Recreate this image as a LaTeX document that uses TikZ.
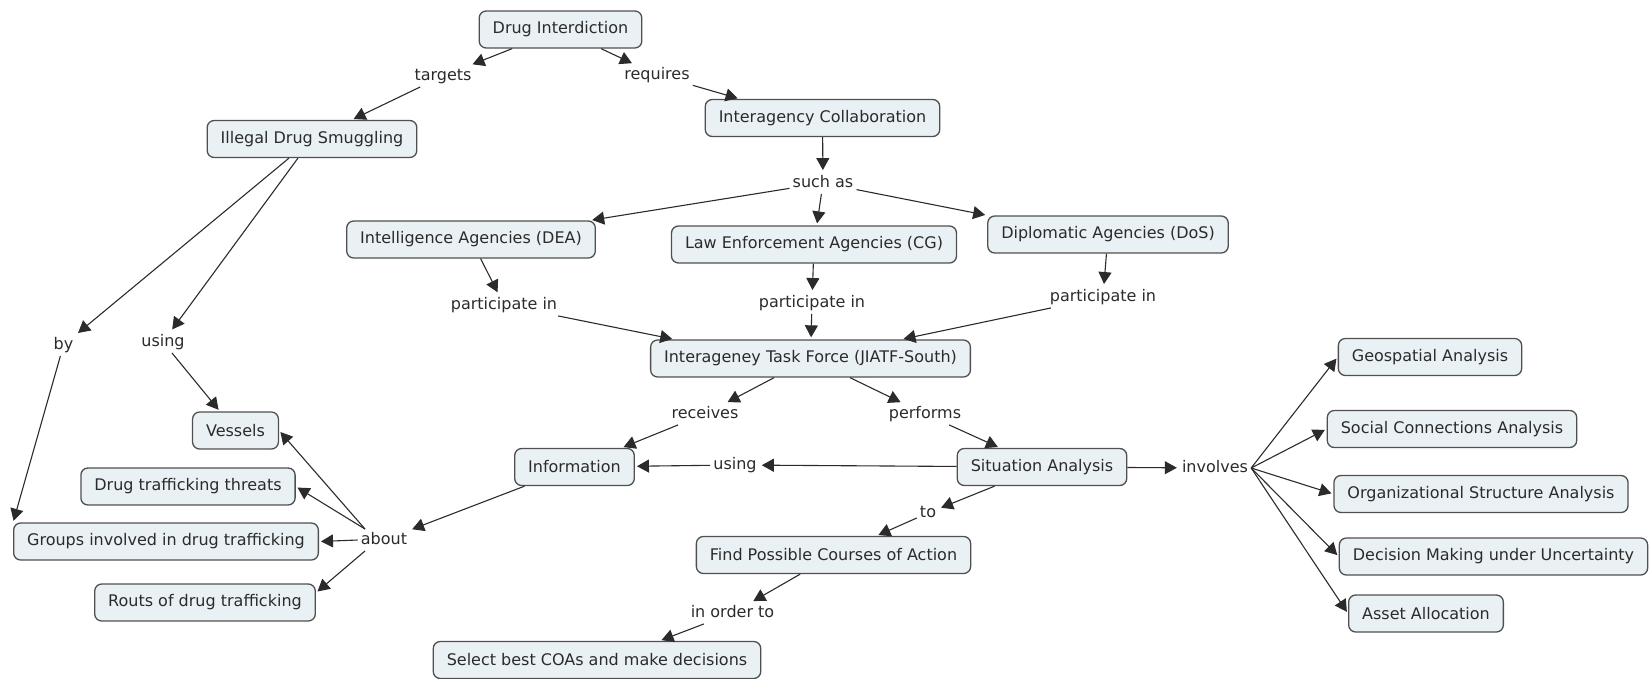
\documentclass[tikz,border=0pt]{standalone}
\usepackage{fontspec}
\setmainfont{DejaVu Sans}
\usepackage{xcolor}
\definecolor{boxfill}{HTML}{EAF1F5}
\definecolor{boxline}{HTML}{505050}
\definecolor{ink}{HTML}{2B2B2B}
\usepackage{tikz}
\usetikzlibrary{arrows.meta}

\begin{document}
\begin{tikzpicture}[x=1pt,y=-1pt,
    concept/.style={rectangle,rounded corners=7pt,fill=boxfill,draw=boxline,
      line width=1.3pt,inner xsep=13.5pt,minimum height=37pt,text=ink,
      font=\fontsize{16}{19}\selectfont},
    phrase/.style={inner sep=3pt,text height=12pt,text depth=3.5pt,text=ink,
      font=\fontsize{16}{19}\selectfont},
    link/.style={draw=ink,line width=1.1pt,
      -{Triangle[length=12pt,width=13pt]},shorten >=2pt}]
    \useasboundingbox (0,0) rectangle (1650,678);
    % concepts
    \node[concept] (di) at (560.5,29.5) {Drug Interdiction};
    \node[concept] (ids) at (312,139) {Illegal Drug Smuggling};
    \node[concept] (ic) at (822.5,118) {Interagency Collaboration};
    \node[concept] (intel) at (471,239.5) {Intelligence Agencies (DEA)};
    \node[concept] (law) at (814,244.5) {Law Enforcement Agencies (CG)};
    \node[concept] (dos) at (1108,234.5) {Diplomatic Agencies (DoS)};
    \node[concept] (tf) at (810.5,358.5) {Interageney Task Force (JIATF-South)};
    \node[concept] (info) at (574.5,467) {Information};
    \node[concept] (sit) at (1042,467) {Situation Analysis};
    \node[concept] (find) at (833.5,555) {Find Possible Courses of Action};
    \node[concept] (sel) at (597,660) {Select best COAs and make decisions};
    \node[concept] (vessels) at (235.5,430.5) {Vessels};
    \node[concept] (threats) at (188,486.5) {Drug trafficking threats};
    \node[concept] (groups) at (166,541.5) {Groups involved in drug trafficking};
    \node[concept] (routs) at (205,602.5) {Routs of drug trafficking};
    \node[concept] (geo) at (1430,357) {Geospatial Analysis};
    \node[concept] (social) at (1452,429) {Social Connections Analysis};
    \node[concept] (org) at (1481,494) {Organizational Structure Analysis};
    \node[concept] (dec) at (1493.5,556.5) {Decision Making under Uncertainty};
    \node[concept] (asset) at (1426,613.5) {Asset Allocation};
    % linking phrases
    \node[phrase] (targets) at (443,76) {targets};
    \node[phrase] (requires) at (657,75) {requires};
    \node[phrase] (suchas) at (823,183) {such as};
    \node[phrase] (partl) at (504,305) {participate in};
    \node[phrase] (partm) at (812,303) {participate in};
    \node[phrase] (partr) at (1103,297) {participate in};
    \node[phrase] (by) at (63.5,345) {by};
    \node[phrase] (usingv) at (163,342) {using};
    \node[phrase] (receives) at (705,414) {receives};
    \node[phrase] (performs) at (925,414) {performs};
    \node[phrase] (usingi) at (735,465) {using};
    \node[phrase] (about) at (384,540) {about};
    \node[phrase] (involves) at (1215,468) {involves};
    \node[phrase] (to) at (928,513) {to};
    \node[phrase] (inorder) at (732.5,613) {in order to};
    % links
    \draw[link] (di) -- (targets);
    \draw[link] (targets) -- (ids);
    \draw[link] (di) -- (requires);
    \draw[link] (requires) -- (ic.167);
    \draw[link] (ic) -- (suchas);
    \draw[link] (suchas) -- (intel);
    \draw[link] (suchas) -- (law);
    \draw[link] (suchas) -- (dos.171);
    \draw[link] (intel) -- (partl);
    \draw[link] (law) -- (partm);
    \draw[link] (dos) -- (partr);
    \draw[link] (partl) -- (tf.172);
    \draw[link] (partm) -- (tf);
    \draw[link] (partr) -- (tf);
    \draw[link] (ids) -- (by);
    \draw[link] (ids) -- (usingv);
    \draw[link] (by) -- (groups.173);
    \draw[link] (usingv) -- (vessels);
    \draw[link] (tf) -- (receives);
    \draw[link] (receives) -- (info);
    \draw[link] (tf) -- (performs);
    \draw[link] (performs) -- (sit);
    \draw[link] (info) -- (about);
    \draw[link] (about.150) -- (vessels.east);
    \draw[link] (about.150) -- (threats.east);
    \draw[link] (about.west) -- (groups.east);
    \draw[link] (about.210) -- (routs.5);
    \draw[link] (sit) -- (usingi);
    \draw[link] (usingi) -- (info);
    \draw[link] (sit) -- (involves);
    \foreach \n in {geo,social,org,dec,asset}
      \draw[link] (involves.east) -- (\n.west);
    \draw[link] (sit) -- (to);
    \draw[link] (to) -- (find);
    \draw[link] (find) -- (inorder);
    \draw[link] (inorder) -- (sel.17);
\end{tikzpicture}
\end{document}
